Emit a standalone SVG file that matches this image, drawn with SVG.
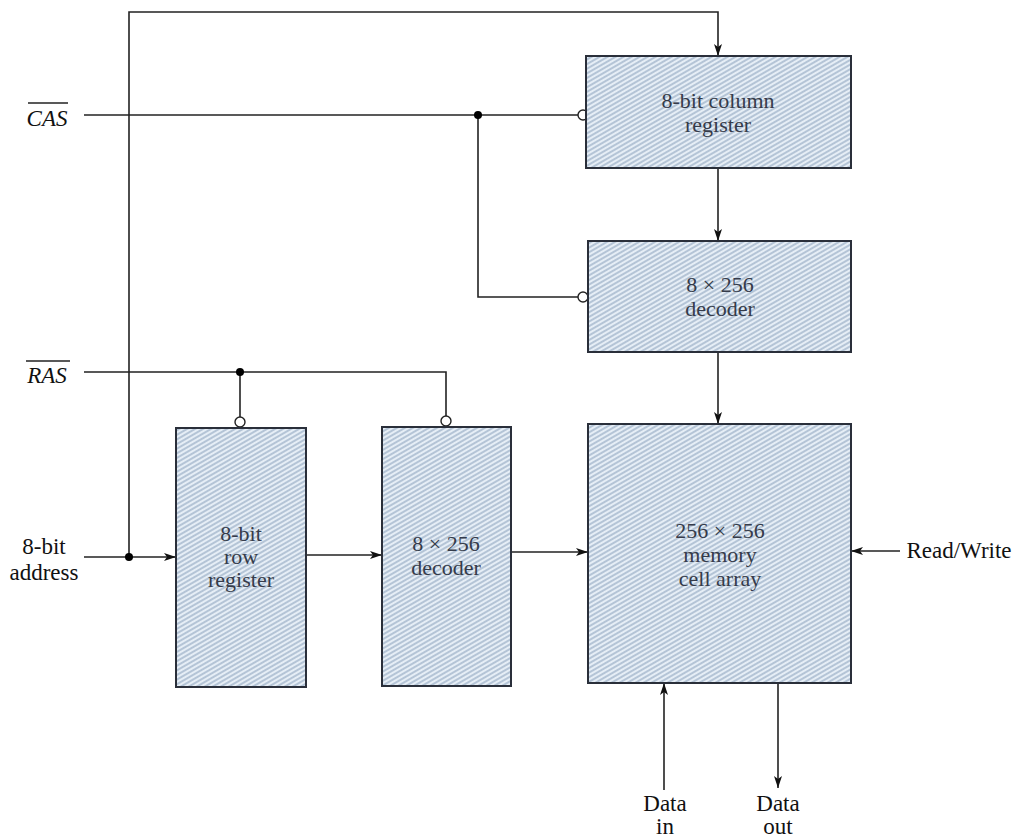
<svg xmlns="http://www.w3.org/2000/svg" width="1021" height="837" viewBox="0 0 1021 837">
<defs>
<pattern id="hatch" patternUnits="userSpaceOnUse" width="4" height="4" patternTransform="rotate(-30)">
<rect width="4" height="4" fill="#e6eef6"/>
<line x1="0" y1="1" x2="4" y2="1" stroke="#9fb2c8" stroke-width="1.4"/>
</pattern>
<marker id="arr" markerWidth="12" markerHeight="8" refX="12" refY="4" orient="auto" markerUnits="userSpaceOnUse">
<path d="M0,0 L12,4 L0,8 L3,4 Z" fill="#111"/>
</marker>
</defs>
<style>
.box{fill:url(#hatch);stroke:#2a2f3a;stroke-width:2}
.bt{font-family:"Liberation Serif",serif;font-size:22px;fill:#353b4a;text-anchor:middle}
.lt{font-family:"Liberation Serif",serif;font-size:23px;fill:#111;text-anchor:middle}
.w{fill:none;stroke:#222;stroke-width:1.6}
.bub{fill:#fff;stroke:#222;stroke-width:1.4}
.dot{fill:#000}
</style>
<rect width="1021" height="837" fill="#fff"/>
<g id="connectors">
<polyline class="w" points="129,557 129,12 718,12 718,56" marker-end="url(#arr)"/>
<line class="w" x1="84" y1="115" x2="578" y2="115"/>
<polyline class="w" points="478,115 478,297 578,297"/>
<line class="w" x1="718" y1="168" x2="718" y2="241" marker-end="url(#arr)"/>
<line class="w" x1="718" y1="352" x2="718" y2="424" marker-end="url(#arr)"/>
<polyline class="w" points="84,372 446,372 446,416"/>
<line class="w" x1="240" y1="372" x2="240" y2="417"/>
<line class="w" x1="84" y1="557" x2="176" y2="557" marker-end="url(#arr)"/>
<line class="w" x1="306" y1="555" x2="382" y2="555" marker-end="url(#arr)"/>
<line class="w" x1="511" y1="552" x2="588" y2="552" marker-end="url(#arr)"/>
<line class="w" x1="900" y1="551" x2="851" y2="551" marker-end="url(#arr)"/>
<line class="w" x1="664" y1="790" x2="664" y2="683" marker-end="url(#arr)"/>
<line class="w" x1="778" y1="683" x2="778" y2="788" marker-end="url(#arr)"/>
<circle class="dot" cx="478" cy="115" r="4"/>
<circle class="dot" cx="240" cy="372" r="4"/>
<circle class="dot" cx="129" cy="557" r="4"/>
<circle class="bub" cx="583" cy="115" r="5"/>
<circle class="bub" cx="583" cy="297" r="5"/>
<circle class="bub" cx="240" cy="422" r="5"/>
<circle class="bub" cx="446" cy="421" r="5"/>
</g>
<g id="labels">
<text x="47" y="126" class="lt" font-style="italic">CAS</text>
<line x1="28" y1="103" x2="68" y2="103" stroke="#222" stroke-width="1.4"/>
<text x="47" y="383" class="lt" font-style="italic">RAS</text>
<line x1="26" y1="361" x2="70" y2="361" stroke="#222" stroke-width="1.4"/>
<text x="44" y="554" class="lt">8-bit</text>
<text x="44" y="580" class="lt">address</text>
<text x="959" y="558" class="lt">Read/Write</text>
<text x="665" y="811" class="lt">Data</text>
<text x="665" y="834" class="lt">in</text>
<text x="778" y="811" class="lt">Data</text>
<text x="778" y="834" class="lt">out</text>
</g>
<g id="col-register">
<rect class="box" x="586" y="56" width="265" height="112"/>
<text x="718" y="108" class="bt">8-bit column</text>
<text x="718" y="132" class="bt">register</text>
</g>
<g id="col-decoder">
<rect class="box" x="588" y="241" width="263" height="111"/>
<text x="720" y="292" class="bt">8 × 256</text>
<text x="720" y="316" class="bt">decoder</text>
</g>
<g id="row-register">
<rect class="box" x="176" y="428" width="130" height="259"/>
<text x="241" y="541" class="bt">8-bit</text>
<text x="241" y="564" class="bt">row</text>
<text x="241" y="587" class="bt">register</text>
</g>
<g id="row-decoder">
<rect class="box" x="382" y="427" width="129" height="259"/>
<text x="446" y="551" class="bt">8 × 256</text>
<text x="446" y="575" class="bt">decoder</text>
</g>
<g id="memory">
<rect class="box" x="588" y="424" width="263" height="259"/>
<text x="720" y="538" class="bt">256 × 256</text>
<text x="720" y="562" class="bt">memory</text>
<text x="720" y="586" class="bt">cell array</text>
</g>
</svg>
